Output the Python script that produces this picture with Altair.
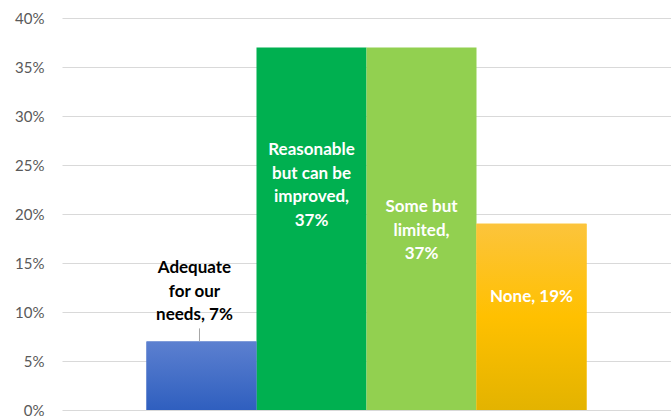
import altair as alt
import pandas as pd

categories = ["Adequate for our needs", "Reasonable but can be improved", "Some but limited", "None"]
values = [0.07, 0.37, 0.37, 0.19]
labels = ["Adequate\nfor our\nneeds, 7%", "Reasonable\nbut can be\nimproved,\n37%", "Some but\nlimited,\n37%", "None, 19%"]
colors = ["#4a72c8", "#00b050", "#92d050", "#ffc000"]
y_ticks = [0, 0.05, 0.10, 0.15, 0.20, 0.25, 0.30, 0.35, 0.40]

df = pd.DataFrame({"category": categories, "value": values, "label": labels})

FONT = "Lato"

x_enc = alt.X("category:N", sort=categories, axis=None,
              scale=alt.Scale(paddingInner=0, paddingOuter=0.768))
y_scale = alt.Scale(domain=[0, 0.4])
y_axis = alt.Axis(values=y_ticks, format=".0%", title=None, domain=False, ticks=False,
                  labelPadding=18, labelFont=FONT, labelFontSize=15, labelColor="#595959",
                  gridColor="#d9d9d9", gridWidth=1)
y_enc = alt.Y("value:Q", scale=y_scale, axis=y_axis)

base = alt.Chart(df)

bars = base.mark_bar(cornerRadius=0).encode(
    x=x_enc, y=y_enc,
    color=alt.Color("category:N", sort=categories,
                    scale=alt.Scale(domain=categories, range=colors), legend=None),
)

blue_grad = alt.Gradient(gradient="linear", x1=0, x2=0, y1=0, y2=1,
                         stops=[alt.GradientStop(color="#5c80d0", offset=0),
                                alt.GradientStop(color="#2f5fbf", offset=1)])
gold_grad = alt.Gradient(gradient="linear", x1=0, x2=0, y1=0, y2=1,
                         stops=[alt.GradientStop(color="#fcc43c", offset=0),
                                alt.GradientStop(color="#ffc000", offset=0.5),
                                alt.GradientStop(color="#e3b300", offset=1)])

blue_bar = base.transform_filter(alt.datum.category == categories[0]).mark_bar(color=blue_grad).encode(x=x_enc, y=y_enc)
gold_bar = base.transform_filter(alt.datum.category == categories[3]).mark_bar(color=gold_grad).encode(x=x_enc, y=y_enc)

leader = base.transform_filter(alt.datum.category == categories[0]).mark_rule(
    color="#a6a6a6", strokeWidth=1, y2Offset=-13, xOffset=-2
).encode(x=x_enc, y=y_enc, y2="value:Q")

def label_layer(idx, dy, color, dx=0):
    return base.transform_filter(alt.datum.category == categories[idx]).mark_text(
        font=FONT, fontSize=17, fontWeight="bold", color=color, lineBreak="\n",
        lineHeight=23.5, align="center", baseline="middle", dy=dy, dx=dx
    ).encode(x=x_enc, y=y_enc, text="label:N")

t0 = label_layer(0, -73, "#000000", dx=-7)
t1 = label_layer(1, 103, "#ffffff")
t2 = label_layer(2, 160, "#ffffff")
t3 = label_layer(3, 73, "#ffffff")

chart = alt.layer(bars, blue_bar, gold_bar, leader, t0, t1, t2, t3).properties(
    width=609, height=392,
    background="white",
    padding={"left": 62, "top": 18, "right": 0, "bottom": 9},
    autosize=alt.AutoSizeParams(type="none"),
).configure_view(strokeOpacity=0, strokeWidth=0).configure_axis(
    domain=False, ticks=False
)

chart.save("out.html", embed_options={"renderer": "svg", "actions": False})
